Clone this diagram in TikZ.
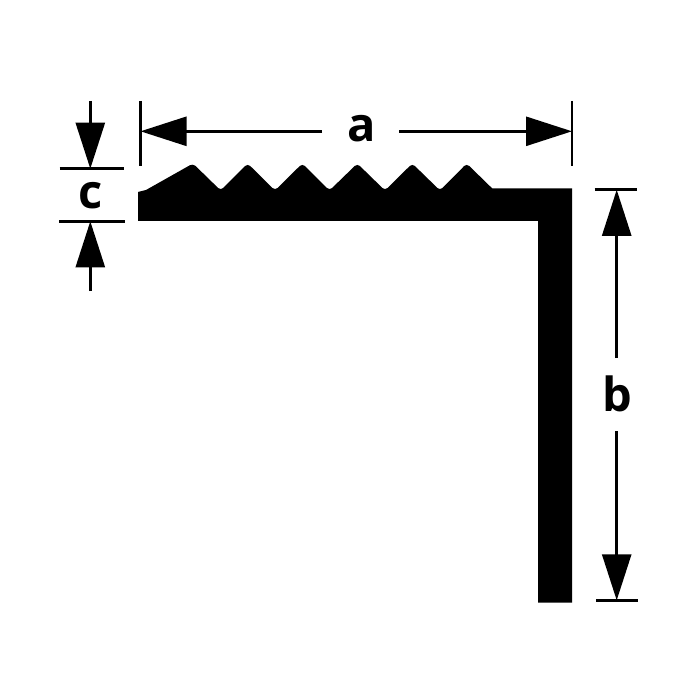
\documentclass[tikz,border=0pt]{standalone}
\usepackage{fontspec}
\setmainfont{Open Sans}
\usetikzlibrary{arrows.meta}
\tikzset{
  dimtick/.style={line width=2.6pt,black},
  dimarrow/.style={line width=2.6pt,black,-{Triangle[length=46pt,width=29pt]}},
  dimlabel/.style={inner sep=0pt,font=\fontsize{47}{47}\selectfont\bfseries}
}
\begin{document}
\begin{tikzpicture}[x=1pt,y=-1pt]
\useasboundingbox (0,0) rectangle (700,700);
% profile
\fill[black] (138,221) -- (138,192) -- (146,190)
  [rounded corners=3.5pt] -- (193,163.5) -- (220.7,190.5) -- (247.7,163.5) -- (275,190.5) -- (302.3,163.5)
  -- (329.5,190.5) -- (357.3,163.5) -- (385,190.5) -- (412.3,163.5) -- (440,190.5) -- (466.7,163.5)
  [sharp corners] -- (492.3,188.5) -- (572,188.5) -- (572,602.5) -- (538,602.5) -- (538,221) -- cycle;
% dimension a
\coordinate (aLtop) at (140.5,101); \coordinate (aLbot) at (140.5,166);
\coordinate (aRtop) at (572,101);   \coordinate (aRbot) at (572,166);
\coordinate (aLtip) at (140.5,131.3); \coordinate (aRtip) at (572,131.3);
\coordinate (aLfree) at (322,131.3); \coordinate (aRfree) at (399,131.3);
\draw[dimtick] (aLtop) -- (aLbot);
\draw[dimtick] (aRtop) -- (aRbot);
\draw[dimarrow] (aLfree) -- (aLtip);
\draw[dimarrow] (aRfree) -- (aRtip);
\node[dimlabel] (la) at (362,129) {a};
% dimension b
\coordinate (bTl) at (594.5,189.8); \coordinate (bTr) at (637,189.8);
\coordinate (bBl) at (596,600.3);   \coordinate (bBr) at (638,600.3);
\coordinate (bTtip) at (616.7,189.8); \coordinate (bBtip) at (616.7,600.3);
\coordinate (bTfree) at (616.7,358); \coordinate (bBfree) at (616.7,431);
\draw[dimtick] (bTl) -- (bTr);
\draw[dimtick] (bBl) -- (bBr);
\draw[dimarrow] (bTfree) -- (bTtip);
\draw[dimarrow] (bBfree) -- (bBtip);
\node[dimlabel] (lb) at (617,394) {b};
% dimension c
\coordinate (cTl) at (59.5,168.7); \coordinate (cTr) at (124,168.7);
\coordinate (cBl) at (59,221.3);   \coordinate (cBr) at (125,221.3);
\coordinate (cTtip) at (90.3,168.7); \coordinate (cBtip) at (90.3,221.3);
\coordinate (cTfree) at (90.3,101); \coordinate (cBfree) at (90.3,291);
\draw[dimtick] (cTl) -- (cTr);
\draw[dimtick] (cBl) -- (cBr);
\draw[dimarrow] (cTfree) -- (cTtip);
\draw[dimarrow] (cBfree) -- (cBtip);
\node[dimlabel] (lc) at (90.5,195.5) {c};
\end{tikzpicture}
\end{document}
